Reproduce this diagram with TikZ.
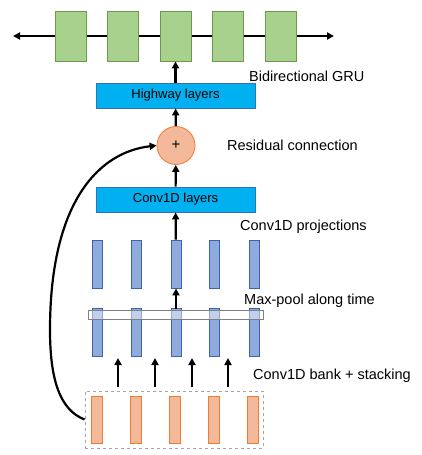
\documentclass[tikz,border=0pt]{standalone}
\usepackage{fontspec}
\setmainfont{Liberation Sans}
\usetikzlibrary{arrows.meta,positioning,calc}

\definecolor{grufill}{HTML}{A9D18E}
\definecolor{gruline}{HTML}{6A9A4A}
\definecolor{layfill}{HTML}{00B0F0}
\definecolor{layline}{HTML}{2E75B6}
\definecolor{barfill}{HTML}{8FAADC}
\definecolor{barline}{HTML}{3B64AD}
\definecolor{orfill}{HTML}{F4B99A}
\definecolor{orline}{HTML}{ED7D31}

\tikzset{
  grubox/.style={rectangle, draw=gruline, fill=grufill, line width=0.8pt, minimum width=31pt, minimum height=50pt, inner sep=0pt},
  laybox/.style={rectangle, draw=layline, fill=layfill, line width=0.8pt, minimum width=159pt, minimum height=25pt, inner sep=0pt, font=\fontsize{13}{15}\selectfont},
  bluebar/.style={rectangle, draw=barline, fill=barfill, line width=0.8pt, minimum width=10pt, minimum height=48pt, inner sep=0pt},
  orbar/.style={rectangle, draw=orline, fill=orfill, line width=0.8pt, minimum width=11pt, minimum height=47pt, inner sep=0pt},
  lbl/.style={anchor=west, inner sep=0pt, font=\fontsize{14.5}{16}\selectfont},
  tip/.style={Triangle[length=7pt,width=7pt]},
  arr/.style={-{Triangle[length=7pt,width=7pt]}, line width=2.2pt}
}

\begin{document}
\begin{tikzpicture}[x=1pt,y=-1pt]
  \useasboundingbox (0,0) rectangle (422,455);
  % bidirectional GRU
  \coordinate (gl) at (13,36);
  \coordinate (gr) at (334,36);
  \draw [{Triangle[length=7pt,width=7pt]}-{Triangle[length=7pt,width=7pt]}, line width=2.2pt] (gl) -- (gr);
  \foreach \i/\x in {1/70.5,2/122.5,3/175.5,4/228,5/280.5}
    \node [grubox] (g\i) at (\x,36) {};
  \node [lbl] (tgru) at (249,76) {Bidirectional GRU};
  % highway, residual, conv1d layers
  \node [laybox] (hw) at (175.5,95.5) {Highway layers};
  \node [circle, draw=orline, fill=orfill, line width=0.8pt, minimum size=38pt, inner sep=0pt, font=\fontsize{15}{16}\selectfont] (add) at (176,145.5) {+};
  \node [lbl] (tres) at (227,145) {Residual connection};
  \node [laybox] (cv) at (175.5,199.5) {Conv1D layers};
  \draw [arr] (hw) -- (g3);
  \draw [arr] (add) -- (hw);
  \draw [arr] (cv) -- (add);
  % projections and max-pool
  \node [lbl] (tproj) at (240,227) {Conv1D projections};
  \node [lbl] (tpool) at (244,301) {Max-pool along time};
  \foreach \i/\x in {1/97,2/136.5,3/176,4/214.5,5/254} {
    \node [bluebar] (p\i) at (\x,264) {};
    \node [bluebar] (m\i) at (\x,332.5) {};
  }
  \draw [draw=gray, fill=white, fill opacity=0.45, line width=0.8pt] (88,310) rectangle (263,319);
  \draw [arr] (p3) -- (cv);
  \draw [arr] (m3.north) ++(0,1) -- (p3);
  % conv1d bank
  \node [lbl] (tbank) at (253,376) {Conv1D bank + stacking};
  \foreach \i/\x in {1/96.5,2/135.5,3/174.5,4/213.5,5/252.5}
    \node [orbar] (b\i) at (\x,419.5) {};
  \node [draw=gray!70, dashed, line width=0.8pt, minimum width=178pt, minimum height=57pt, inner sep=0pt] (bank) at (174,419.5) {};
  \foreach \x in {118,155,192,228}
    \draw [arr] (\x,387) -- (\x,358);
  % residual path
  \draw [arr] (bank.west) .. controls (60,410) and (50,380) .. (50,330)
    .. controls (50,200) and (100,152) .. (add.west);
\end{tikzpicture}
\end{document}
